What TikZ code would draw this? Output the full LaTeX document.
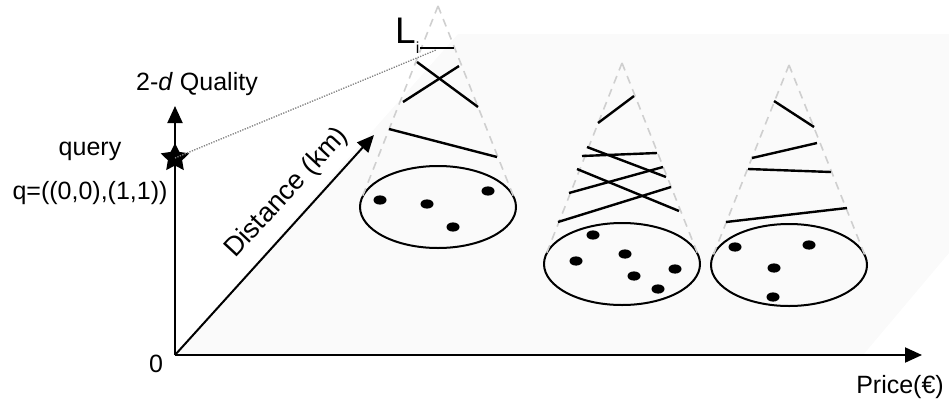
\documentclass[tikz,border=0pt]{standalone}
\usepackage{fontspec}
\setmainfont{Liberation Sans}
\usetikzlibrary{arrows.meta,shapes.geometric}
\definecolor{planegray}{HTML}{FAFAFA}
\definecolor{conegray}{HTML}{CFCFCF}
\tikzset{
  lbl/.style={inner sep=0pt, font=\fontsize{25}{30}\selectfont},
  axis/.style={line width=2pt, -{Triangle[length=17pt,width=15pt]}},
  coneside/.style={draw=conegray, line width=1.6pt, dash pattern=on 8pt off 6pt},
  seg/.style={line width=2.4pt},
  basin/.style={ellipse, draw, line width=2pt, minimum width=156pt, minimum height=82pt, inner sep=0pt},
  link/.style={draw=gray, line width=1.3pt, dash pattern=on 1.3pt off 1.3pt},
}
\newcommand\pdot[1]{\fill #1 ellipse (6.5pt and 4.6pt);}
\begin{document}
\begin{tikzpicture}[x=1pt,y=-1pt]
\useasboundingbox (0,0) rectangle (949,407);

% ground plane spanned by distance and price
\fill[planegray] (175,355) -- (458,34) -- (949,34) -- (949,253) -- (863,355) -- cycle;

% axes
\coordinate (o) at (175,355);
\coordinate (ytip) at (175,106);
\coordinate (xtip) at (922,355);
\coordinate (dtip) at (374,135);
\draw[axis] (o) -- (ytip);
\draw[axis] (o) -- (xtip);
\draw[axis] (o) -- (dtip);

% axis labels
\node[lbl] (quality) at (197,84) {2-\textit{d} Quality};
\node[lbl] (zero) at (156,364) {0};
\node[lbl] (price) at (900,387) {Price(€)};
\node[lbl, rotate=47, font=\fontsize{27}{30}\selectfont] (dist) at (287,193) {Distance (km)};
\node[lbl] (querytxt) at (90,151) {query};
\node[lbl] (qval) at (90,193) {q=((0,0),(1,1))};

% cone 1
\node[basin] (b1) at (438,207) {};
\coordinate (a1) at (438,6);
\draw[coneside] (a1) -- (361.6,198.6);
\draw[coneside] (a1) -- (514.4,198.6);
\coordinate (li1) at (420,48);
\coordinate (li2) at (454,48);
\draw[seg] (li1) -- (li2);
\draw[seg] (417,62) -- (478,107);
\draw[seg] (403,102) -- (459,66);
\draw[seg] (389,129) -- (497,157);
\pdot{(380,200)} \pdot{(427,204)} \pdot{(488,191)} \pdot{(453,227)}
\node[anchor=base west, inner sep=0pt, font=\fontsize{37}{40}\selectfont] (li) at (395,43)
  {L\raisebox{-10pt}{\fontsize{16}{16}\selectfont i}};

% cone 2
\node[basin] (b2) at (622,264) {};
\coordinate (a2) at (622,63);
\draw[coneside] (a2) -- (545.6,255.6);
\draw[coneside] (a2) -- (698.4,255.6);
\draw[seg] (598,123) -- (634,96);
\draw[seg] (582,156) -- (657,153);
\draw[seg] (587,147) -- (666,177);
\draw[seg] (577,169) -- (679,211);
\draw[seg] (569,193) -- (663,167);
\draw[seg] (558,222) -- (671,187);
\pdot{(593,235)} \pdot{(576,261)} \pdot{(625,254)} \pdot{(634,276)} \pdot{(675,269)} \pdot{(658,289)}

% cone 3
\node[basin] (b3) at (789,265) {};
\coordinate (a3) at (789,65);
\draw[coneside] (a3) -- (712.6,256.6);
\draw[coneside] (a3) -- (865.4,256.6);
\draw[seg] (774,101) -- (814,127);
\draw[seg] (752,158) -- (817,143);
\draw[seg] (748,169) -- (831,172);
\draw[seg] (726,222) -- (847,208);
\pdot{(735,247)} \pdot{(809,245)} \pdot{(774,268)} \pdot{(773,297)}

% query point: a five-pointed star on the quality axis, linked to L_i
\coordinate (q) at (175,158);
\begin{scope}[shift={(q)}]
  \fill (-90:15) -- (-54:7.5) -- (-18:15) -- (18:7.5) -- (54:15) -- (90:7.5)
        -- (126:15) -- (162:7.5) -- (198:15) -- (234:7.5) -- cycle;
\end{scope}
\coordinate (lilink) at (436,50);
\draw[link] (q) -- (lilink);
\end{tikzpicture}
\end{document}
